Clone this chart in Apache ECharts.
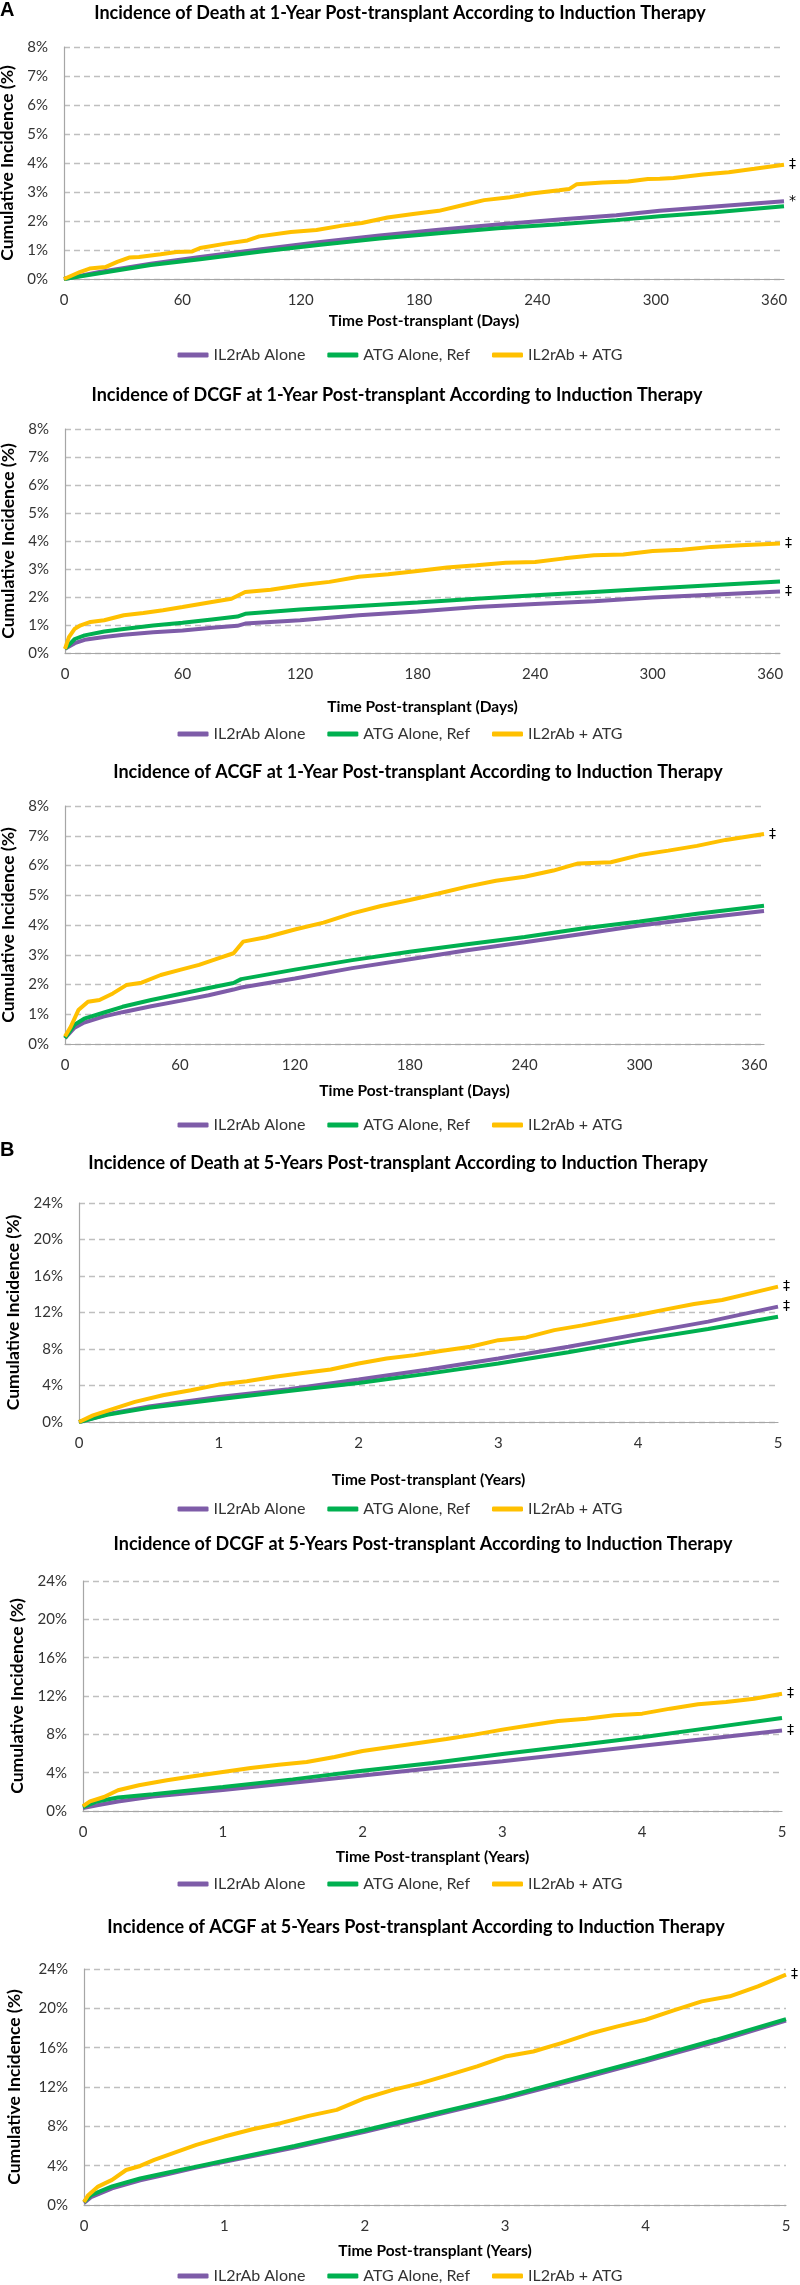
<!DOCTYPE html>
<html><head><meta charset="utf-8">
<script src="https://cdn.jsdelivr.net/npm/echarts@6/dist/echarts.min.js"></script>
<style>html,body{margin:0;padding:0;background:#fff}#c{width:800px;height:2285px}</style>
</head><body><div id="c"></div>
<script>
// ---------- text ----------
const seriesNames = ['IL2rAb Alone', 'ATG Alone, Ref', 'IL2rAb + ATG'];
const panelTitles = [
  'Incidence of Death at 1-Year Post-transplant According to Induction Therapy',
  'Incidence of DCGF at 1-Year Post-transplant According to Induction Therapy',
  'Incidence of ACGF at 1-Year Post-transplant According to Induction Therapy',
  'Incidence of Death at 5-Years Post-transplant According to Induction Therapy',
  'Incidence of DCGF at 5-Years Post-transplant According to Induction Therapy',
  'Incidence of ACGF at 5-Years Post-transplant According to Induction Therapy'
];
const xNameDays = 'Time Post-transplant (Days)';
const xNameYears = 'Time Post-transplant (Years)';
const yName = 'Cumulative Incidence (%)';
const panelLetters = ['A', 'B'];
// significance marks at line ends [purple, green, yellow]
const marks = [
  ['*', null, '‡'],
  ['‡', null, '‡'],
  [null, null, '‡'],
  ['‡', null, '‡'],
  ['‡', null, '‡'],
  [null, null, '‡']
];

// ---------- data: [time, cumulative incidence %] ----------
// Panel 1: Death, 1 year (days)
const deathYr1Purple = [[0,0],[18,0.24],[44,0.53],[69,0.76],[99,1.02],[130,1.28],[160,1.5],[190,1.7],[220,1.88],[251,2.05],[280,2.2],[302,2.35],[330,2.5],[365,2.68]];
const deathYr1Green  = [[0,0],[18,0.2],[44,0.48],[69,0.68],[99,0.94],[130,1.18],[160,1.4],[190,1.58],[220,1.75],[251,1.89],[280,2.03],[302,2.16],[330,2.3],[365,2.51]];
const deathYr1Yellow = [[0,0],[8,0.24],[13,0.36],[21,0.41],[27,0.59],[33,0.74],[38,0.76],[49,0.85],[57,0.93],[65,0.95],[69,1.07],[82,1.22],[93,1.33],[99,1.47],[115,1.62],[128,1.69],[141,1.84],[151,1.93],[164,2.12],[177,2.24],[190,2.35],[203,2.56],[213,2.72],[226,2.82],[237,2.95],[251,3.06],[256,3.1],[260,3.27],[273,3.33],[286,3.36],[296,3.45],[302,3.46],[309,3.48],[324,3.6],[337,3.68],[350,3.8],[365,3.94]];
// Panel 2: DCGF, 1 year
const dcgfYr1Purple = [[0,0.15],[5,0.35],[10,0.47],[20,0.57],[30,0.65],[45,0.74],[60,0.8],[75,0.9],[88,0.97],[92,1.05],[120,1.17],[150,1.35],[180,1.48],[210,1.64],[240,1.75],[270,1.85],[300,1.98],[330,2.08],[365,2.2]];
const dcgfYr1Green  = [[0,0.15],[5,0.5],[10,0.63],[20,0.77],[30,0.86],[45,0.98],[60,1.08],[75,1.2],[88,1.3],[92,1.4],[120,1.55],[150,1.68],[180,1.8],[210,1.94],[240,2.06],[270,2.18],[300,2.3],[330,2.42],[365,2.55]];
const dcgfYr1Yellow = [[0,0.15],[2,0.57],[5,0.87],[8,0.99],[13,1.11],[20,1.17],[30,1.35],[40,1.43],[50,1.53],[60,1.64],[75,1.82],[85,1.94],[92,2.18],[105,2.26],[120,2.42],[135,2.54],[150,2.72],[165,2.81],[180,2.93],[195,3.05],[210,3.13],[225,3.22],[240,3.25],[255,3.38],[270,3.49],[285,3.52],[300,3.64],[315,3.69],[330,3.79],[345,3.85],[365,3.91]];
// Panel 3: ACGF, 1 year
const acgfYr1Purple = [[0,0.2],[5,0.55],[10,0.72],[20,0.92],[30,1.07],[45,1.27],[60,1.45],[75,1.64],[88,1.83],[92,1.9],[120,2.2],[150,2.55],[180,2.85],[210,3.15],[240,3.42],[270,3.7],[300,3.98],[330,4.22],[365,4.47]];
const acgfYr1Green  = [[0,0.2],[5,0.65],[10,0.85],[20,1.05],[30,1.25],[45,1.48],[60,1.68],[75,1.88],[88,2.05],[92,2.18],[120,2.5],[150,2.82],[180,3.1],[210,3.35],[240,3.6],[270,3.88],[300,4.12],[330,4.38],[365,4.65]];
const acgfYr1Yellow = [[0,0.25],[3,0.58],[7,1.14],[12,1.42],[18,1.48],[25,1.7],[32,1.98],[40,2.06],[50,2.32],[60,2.49],[70,2.66],[80,2.88],[88,3.05],[93,3.44],[105,3.59],[120,3.85],[135,4.08],[150,4.39],[165,4.64],[180,4.84],[195,5.06],[210,5.29],[225,5.49],[240,5.62],[255,5.83],[268,6.07],[285,6.11],[300,6.35],[315,6.5],[330,6.66],[345,6.86],[365,7.06]];
// Panel 4: Death, 5 years (years)
const deathYr5Purple = [[0,0],[0.2,0.85],[0.5,1.7],[1,2.75],[1.5,3.6],[2,4.65],[2.5,5.75],[3,6.96],[3.5,8.25],[4,9.63],[4.5,11.0],[5,12.64]];
const deathYr5Green  = [[0,0],[0.2,0.8],[0.5,1.55],[1,2.5],[1.5,3.4],[2,4.28],[2.5,5.3],[3,6.41],[3.5,7.65],[4,8.97],[4.5,10.2],[5,11.54]];
const deathYr5Yellow = [[0,0],[0.1,0.73],[0.25,1.47],[0.4,2.2],[0.6,2.93],[0.8,3.48],[1,4.1],[1.2,4.47],[1.4,4.95],[1.6,5.38],[1.8,5.75],[2,6.41],[2.2,6.96],[2.4,7.33],[2.6,7.8],[2.8,8.24],[3,8.97],[3.2,9.27],[3.4,10.07],[3.6,10.59],[3.8,11.17],[4,11.72],[4.2,12.34],[4.4,12.93],[4.6,13.37],[4.8,14.1],[5,14.83]];
// Panel 5: DCGF, 5 years
const dcgfYr5Purple = [[0,0.3],[0.1,0.6],[0.25,1.0],[0.5,1.5],[1,2.2],[1.5,2.95],[2,3.7],[2.5,4.45],[3,5.2],[3.5,6.0],[4,6.8],[4.5,7.6],[5,8.4]];
const dcgfYr5Green  = [[0,0.4],[0.1,1.0],[0.25,1.4],[0.5,1.75],[1,2.5],[1.5,3.3],[2,4.2],[2.5,5.0],[3,5.95],[3.5,6.8],[4,7.7],[4.5,8.7],[5,9.7]];
const dcgfYr5Yellow = [[0,0.5],[0.05,1.0],[0.15,1.46],[0.25,2.16],[0.4,2.68],[0.6,3.2],[0.8,3.65],[1,4.07],[1.2,4.49],[1.4,4.83],[1.6,5.11],[1.8,5.63],[2,6.26],[2.2,6.68],[2.4,7.1],[2.6,7.51],[2.8,7.97],[3,8.49],[3.2,8.94],[3.4,9.39],[3.6,9.63],[3.8,9.98],[4,10.16],[4.2,10.68],[4.4,11.13],[4.6,11.37],[4.8,11.72],[5,12.24]];
// Panel 6: ACGF, 5 years
const acgfYr5Purple = [[0,0.2],[0.05,0.8],[0.2,1.7],[0.4,2.5],[0.6,3.15],[0.8,3.8],[1,4.4],[1.5,5.85],[2,7.45],[2.5,9.15],[3,10.85],[3.5,12.7],[4,14.6],[4.5,16.6],[5,18.75]];
const acgfYr5Green  = [[0,0.3],[0.05,1.0],[0.2,1.9],[0.4,2.7],[0.6,3.3],[0.8,3.9],[1,4.5],[1.5,6.0],[2,7.6],[2.5,9.3],[3,11.0],[3.5,12.9],[4,14.8],[4.5,16.8],[5,18.9]];
const acgfYr5Yellow = [[0,0.3],[0.03,1.0],[0.1,1.87],[0.2,2.55],[0.3,3.56],[0.4,3.97],[0.5,4.58],[0.6,5.09],[0.7,5.6],[0.8,6.11],[1,6.96],[1.2,7.7],[1.4,8.32],[1.6,9.06],[1.8,9.67],[2,10.86],[2.2,11.71],[2.4,12.39],[2.6,13.24],[2.8,14.09],[3,15.1],[3.2,15.61],[3.4,16.46],[3.6,17.41],[3.8,18.16],[4,18.84],[4.2,19.79],[4.4,20.71],[4.6,21.22],[4.8,22.23],[5,23.42]];

const panelData = [
  [deathYr1Purple, deathYr1Green, deathYr1Yellow],
  [dcgfYr1Purple, dcgfYr1Green, dcgfYr1Yellow],
  [acgfYr1Purple, acgfYr1Green, acgfYr1Yellow],
  [deathYr5Purple, deathYr5Green, deathYr5Yellow],
  [dcgfYr5Purple, dcgfYr5Green, dcgfYr5Yellow],
  [acgfYr5Purple, acgfYr5Green, acgfYr5Yellow]
];

// ---------- layout / style ----------
const COLORS = ['#7E5CA8', '#00B050', '#FFC000'];
const FONT = "Lato, 'Noto Sans', sans-serif";
const layout = [
  {left:64, top:47,   width:720, height:232, xMax:365, xInt:60, yMax:8,  yInt:1, tx:400, ty:13,   ly:347,  xGap:34, yGap:45, xName:xNameDays},
  {left:65, top:429,  width:715, height:224, xMax:365, xInt:60, yMax:8,  yInt:1, tx:397, ty:395,  ly:726,  xGap:46, yGap:47, xName:xNameDays},
  {left:65, top:806,  width:699, height:238, xMax:365, xInt:60, yMax:8,  yInt:1, tx:418, ty:772,  ly:1117, xGap:39, yGap:43, xName:xNameDays},
  {left:79, top:1203, width:699, height:219, xMax:5,   xInt:1,  yMax:24, yInt:4, tx:398, ty:1163, ly:1501, xGap:50, yGap:57, xName:xNameYears},
  {left:83, top:1581, width:699, height:230, xMax:5,   xInt:1,  yMax:24, yInt:4, tx:423, ty:1544, ly:1876, xGap:38, yGap:54, xName:xNameYears},
  {left:84, top:1969, width:702, height:236, xMax:5,   xInt:1,  yMax:24, yInt:4, tx:416, ty:1927, ly:2268, xGap:38, yGap:61, xName:xNameYears}
];

const grid = [], xAxis = [], yAxis = [], series = [], legend = [], title = [];
layout.forEach((p, i) => {
  grid.push({left:p.left, top:p.top, width:p.width, height:p.height, containLabel:false, outerBoundsMode:'none'});
  xAxis.push({
    gridIndex:i, type:'value', min:0, max:p.xMax, interval:p.xInt,
    axisLine:{show:true, onZero:false, lineStyle:{color:'#A6A6A6', width:1.2}},
    axisTick:{show:false}, splitLine:{show:false},
    axisLabel:{margin:14, fontFamily:FONT, fontSize:15, color:'#333',
      formatter: v => (Math.abs(v / p.xInt - Math.round(v / p.xInt)) < 1e-9 ? String(v) : '')},
    name:p.xName, nameLocation:'middle', nameGap:p.xGap,
    nameTextStyle:{fontFamily:FONT, fontWeight:'bold', fontSize:15.5, color:'#000'}
  });
  yAxis.push({
    gridIndex:i, type:'value', min:0, max:p.yMax, interval:p.yInt,
    axisLine:{show:true, lineStyle:{color:'#A6A6A6', width:1.2}},
    axisTick:{show:false},
    splitLine:{show:true, lineStyle:{color:'#BFBFBF', type:[6,4], width:1.3}},
    axisLabel:{margin:16, formatter:'{value}%', fontFamily:FONT, fontSize:15, color:'#333'},
    name:yName, nameLocation:'middle', nameRotate:90, nameGap:p.yGap,
    nameTextStyle:{fontFamily:FONT, fontWeight:'bold', fontSize:17.5, color:'#000'}
  });
  panelData[i].forEach((d, k) => {
    const m = marks[i][k];
    series.push({
      type:'line', name:seriesNames[k], xAxisIndex:i, yAxisIndex:i, data:d,
      showSymbol:false, symbol:'none', smooth:false, clip:false,
      lineStyle:{color:COLORS[k], width:4}, itemStyle:{color:COLORS[k]},
      endLabel: m ? {show:true, formatter:m, distance:5, color:'#000', fontFamily:'DejaVu Sans', fontSize:14} : {show:false},
      z: 2 + k
    });
  });
  legend.push({
    data:seriesNames, left:'center', top:p.ly, icon:'roundRect', itemWidth:31, itemHeight:5, itemGap:22,
    selectedMode:false, padding:0,
    textStyle:{fontFamily:FONT, fontSize:16, color:'#333'}
  });
  title.push({
    text:panelTitles[i], left:p.tx, top:p.ty, textAlign:'center', textVerticalAlign:'middle', padding:0,
    textStyle:{fontFamily:FONT, fontWeight:'bold', fontSize:18, color:'#000'}
  });
});
title.push({text:panelLetters[0], left:0, top:0, padding:0, textStyle:{fontFamily:"'Liberation Sans', Arial, sans-serif", fontWeight:'bold', fontSize:20, color:'#000'}});
title.push({text:panelLetters[1], left:0, top:1140, padding:0, textStyle:{fontFamily:"'Liberation Sans', Arial, sans-serif", fontWeight:'bold', fontSize:20, color:'#000'}});

const chart = echarts.init(document.getElementById('c'), null, {renderer:'canvas', width:800, height:2285});
chart.setOption({animation:false, backgroundColor:'#fff', grid, xAxis, yAxis, series, legend, title});
</script></body></html>
